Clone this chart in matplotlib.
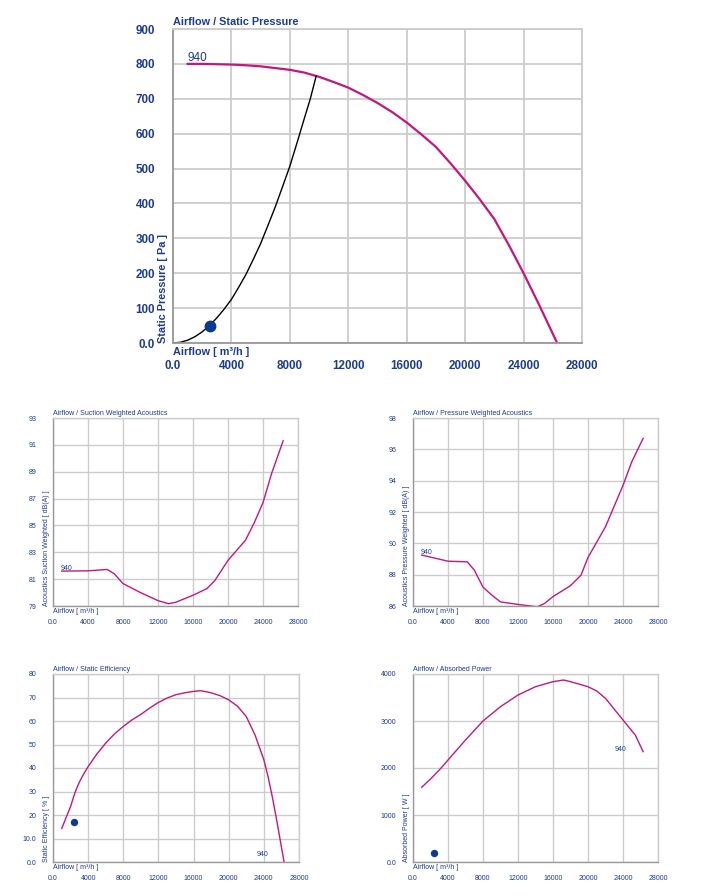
import numpy as np
import matplotlib
matplotlib.use('Agg')
import matplotlib.pyplot as plt

plt.rcParams['font.family'] = ['Liberation Sans', 'DejaVu Sans']

NAVY = '#1d3c8c'
CURVE = '#c2187d'
GRID = '#cccccc'

# Airflow / Static Pressure
press_x = [1000, 2000, 3000, 4000, 5000, 6000, 7000, 8000, 9000, 10000, 11000, 12000, 13000,
           14000, 15000, 16000, 17000, 18000, 19000, 20000, 21000, 22000, 23000, 24000, 25000, 26300]
press_y = [800, 800, 799, 798, 796, 793, 788, 783, 775, 763, 748, 732, 711,
           688, 662, 632, 598, 562, 515, 465, 412, 355, 280, 200, 115, 0]
sys_x = [0, 500, 1000, 1500, 2000, 2500, 3000, 3500, 4000, 4500, 5000, 5500, 6000,
         6500, 7000, 7500, 8000, 8500, 9000, 9400, 9800]
sys_y = [0, 2, 8, 18, 32, 50, 72, 97, 125, 160, 197, 240, 285,
         337, 390, 448, 507, 575, 645, 700, 765]
op_x, op_y = 2500, 50

# Suction weighted acoustics
suc_x = [1000, 4000, 6200, 7000, 8000, 10000, 12000, 13200, 14000, 16000, 17600, 18500, 20000, 22000, 23000, 24000, 25000, 26300]
suc_y = [81.6, 81.62, 81.72, 81.4, 80.67, 80.0, 79.4, 79.17, 79.27, 79.8, 80.3, 80.9, 82.4, 83.9, 85.2, 86.7, 88.9, 91.3]

# Pressure weighted acoustics
prs_x = [1000, 4000, 6200, 7000, 8000, 9000, 10000, 12000, 14200, 15000, 16000, 18000, 19200, 20000, 22000, 24000, 25000, 26300]
prs_y = [89.25, 88.86, 88.82, 88.3, 87.2, 86.7, 86.26, 86.1, 85.95, 86.15, 86.6, 87.3, 87.97, 89.1, 91.06, 93.7, 95.2, 96.7]

# Static efficiency
eff_x = [1000, 1500, 2000, 2500, 3000, 3500, 4000, 5000, 6000, 7000, 8000, 9000, 10000, 11000, 12000,
         13000, 14000, 15000, 16000, 16800, 18000, 19000, 20000, 21000, 22000, 23000, 24000, 24500, 25000, 25500, 26300]
eff_y = [14.3, 19.0, 23.6, 29.5, 34.0, 37.5, 40.6, 46.0, 50.6, 54.5, 57.7, 60.5, 62.8, 65.5, 67.9,
         69.8, 71.2, 72.0, 72.6, 72.9, 72.0, 70.8, 69.0, 66.3, 61.9, 54.0, 43.5, 36.0, 27.0, 17.0, 0]
eff_op_x, eff_op_y = 2400, 17

# Absorbed power
pow_x = [1000, 2000, 3000, 4000, 6000, 8000, 10000, 12000, 14000, 16000, 17200, 18000, 20000, 21000, 22000, 24000, 25400, 26300]
pow_y = [1590, 1766, 1957, 2170, 2596, 3000, 3305, 3553, 3730, 3837, 3872, 3837, 3730, 3638, 3482, 3021, 2702, 2348]
pow_op_x, pow_op_y = 2350, 190

x_ticks = [0, 4000, 8000, 12000, 16000, 20000, 24000, 28000]
x_labels = ['0.0', '4000', '8000', '12000', '16000', '20000', '24000', '28000']

W, H = 705, 896
fig = plt.figure(figsize=(W / 100, H / 100), dpi=100)


def make_ax(l, t, r, b):
    return fig.add_axes([l / W, 1 - b / H, (r - l) / W, (b - t) / H])


def style(ax, title, ylabel, yticks, ylabels, fs, xpad, ypad, bold=False, lw_grid=1.0, lfs=None):
    w = 'bold' if bold else 'normal'
    lfs = lfs or fs
    ax.set_xlim(0, 28000)
    ax.set_ylim(yticks[0], yticks[-1])
    ax.set_xticks(x_ticks)
    ax.set_xticklabels(x_labels, fontsize=fs, color=NAVY, fontweight=w)
    ax.set_yticks(yticks)
    ax.set_yticklabels(ylabels, fontsize=fs, color=NAVY, fontweight=w)
    ax.tick_params(length=0)
    ax.tick_params(axis='x', pad=xpad)
    ax.tick_params(axis='y', pad=ypad)
    ax.grid(True, color=GRID, linewidth=lw_grid)
    ax.set_axisbelow(True)
    for s in ['top', 'right']:
        ax.spines[s].set_color(GRID)
        ax.spines[s].set_linewidth(lw_grid)
    for s in ['left', 'bottom']:
        ax.spines[s].set_color('#999999')
        ax.spines[s].set_linewidth(lw_grid)
    ax.text(0, 1.005, title, transform=ax.transAxes, ha='left', va='bottom',
            fontsize=lfs, color=NAVY, fontweight=w)
    ax.text(-0.012, 0, ylabel, transform=ax.transAxes, ha='right', va='bottom',
            rotation=90, fontsize=lfs, color=NAVY, fontweight=w)
    ax.text(0, -0.012, 'Airflow [ m³/h ]', transform=ax.transAxes, ha='left', va='top',
            fontsize=lfs, color=NAVY, fontweight=w)


# main chart
ax = make_ax(173, 29, 582, 343)
ax.plot(press_x, press_y, color=CURVE, lw=1.6)
ax.plot(sys_x, sys_y, color='black', lw=1.0)
ax.plot(op_x, op_y, 'o', color='#0b3a93', ms=7.5)
ax.text(1000, 808, '940', fontsize=8.5, color=NAVY)
style(ax, 'Airflow / Static Pressure', 'Static Pressure [ Pa ]',
      list(range(0, 1000, 100)), ['0.0'] + [str(v) for v in range(100, 1000, 100)],
      8.4, 12, 13, bold=True, lw_grid=1.3, lfs=7.8)

# suction acoustics
ax = make_ax(53, 418, 298, 606)
ax.plot(suc_x, suc_y, color=CURVE, lw=1.0)
ax.text(900, 81.7, '940', fontsize=5, color=NAVY)
style(ax, 'Airflow / Suction Weighted Acoustics', 'Acoustics Suction Weighted [ dB(A) ]',
      [79, 81, 83, 85, 87, 89, 91, 93], ['79', '81', '83', '85', '87', '89', '91', '93'],
      5, 9, 12)

# pressure acoustics
ax = make_ax(413, 418, 658, 606)
ax.plot(prs_x, prs_y, color=CURVE, lw=1.0)
ax.text(900, 89.3, '940', fontsize=5, color=NAVY)
style(ax, 'Airflow / Pressure Weighted Acoustics', 'Acoustics Pressure Weighted [ dB(A) ]',
      [86, 88, 90, 92, 94, 96, 98], ['86', '88', '90', '92', '94', '96', '98'],
      5, 9, 12)

# static efficiency
ax = make_ax(53, 674, 299, 862)
ax.plot(eff_x, eff_y, color=CURVE, lw=1.0)
ax.plot(eff_op_x, eff_op_y, 'o', color='#0b3a93', ms=4.3)
ax.text(23200, 2.5, '940', fontsize=5, color=NAVY)
style(ax, 'Airflow / Static Efficiency', 'Static Efficiency [ % ]',
      [0, 10, 20, 30, 40, 50, 60, 70, 80], ['0.0', '10.0', '20', '30', '40', '50', '60', '70', '80'],
      5, 9, 12)

# absorbed power
ax = make_ax(413, 674, 658, 862)
ax.plot(pow_x, pow_y, color=CURVE, lw=1.0)
ax.plot(pow_op_x, pow_op_y, 'o', color='#0b3a93', ms=4.3)
ax.text(23000, 2360, '940', fontsize=5, color=NAVY)
style(ax, 'Airflow / Absorbed Power', 'Absorbed Power [ W ]',
      [0, 1000, 2000, 3000, 4000], ['0.0', '1000', '2000', '3000', '4000'],
      5, 9, 12)

fig.savefig('out.png', dpi=100)
